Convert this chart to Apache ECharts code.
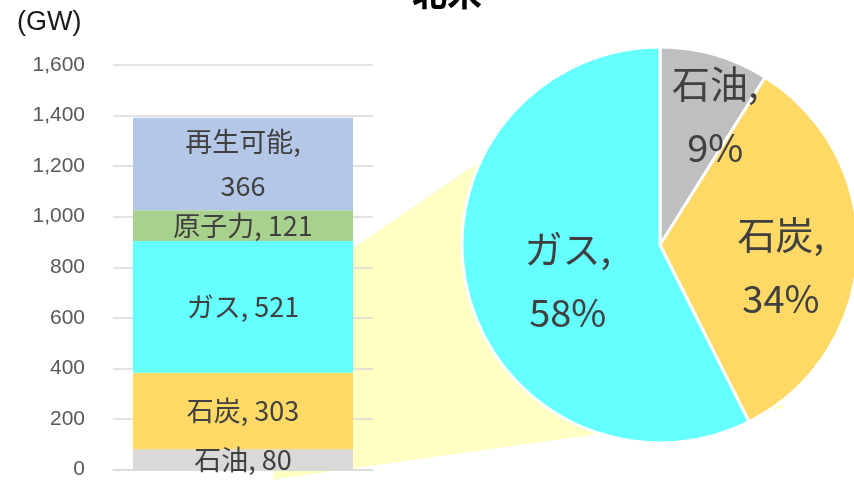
<!DOCTYPE html>
<html><head><meta charset="utf-8">
<script src="https://cdn.jsdelivr.net/npm/echarts@6/dist/echarts.min.js"></script>
<style>html,body{margin:0;padding:0;background:#fff}#c{width:854px;height:480px}</style>
</head><body><div id="c"></div>
<script>
// ---- data ----
const barCategories = ['北米'];
const barNames = ['石油', '石炭', 'ガス', '原子力', '再生可能'];
const barValues = [80, 303, 521, 121, 366];
const pieNames = ['石油', '石炭', 'ガス'];
const pieValues = [9, 34, 58];
const yTicks = { min: 0, max: 1600, interval: 200 };
const titleText = '北米';
const unitText = '(GW)';

// ---- styles ----
const barColors = ['#d9d9d9', '#ffd966', '#66ffff', '#a9d18e', '#b4c7e7'];
const pieColors = ['#bfbfbf', '#ffd966', '#66ffff'];
const pieLabelOffsets = [[27, -31], [19, 17], [7, 12]];
const pieCenter = [660, 245];
const pieRadius = 198;
const CJK = '"Noto Sans CJK JP", "Noto Sans", sans-serif';

const chart = echarts.init(document.getElementById('c'));

const barSeries = barNames.map((n, i) => ({
  name: n, type: 'bar', stack: 'total', barWidth: 220,
  data: [barValues[i]],
  itemStyle: { color: barColors[i] },
  z: 3,
  label: {
    show: true, position: 'inside', color: '#404040',
    fontFamily: CJK, fontSize: 27, lineHeight: 44,
    formatter: (p) => n === '再生可能' ? n + ',\n' + p.value : n + ', ' + p.value
  }
}));

chart.setOption({
  animation: false,
  grid: { left: 113, right: 481, top: 65, bottom: 10 },
  xAxis: { type: 'category', data: barCategories,
    axisLine: { show: true, lineStyle: { color: '#d9d9d9', width: 1.5 } },
    axisTick: { show: false }, axisLabel: { show: false } },
  yAxis: { type: 'value', min: yTicks.min, max: yTicks.max, interval: yTicks.interval,
    axisLine: { show: false }, axisTick: { show: false },
    splitLine: { lineStyle: { color: '#d9d9d9', width: 1.5 } },
    axisLabel: { color: '#595959', fontSize: 21, fontFamily: 'Liberation Sans, Arial, sans-serif', margin: 28,
      formatter: (v) => v.toLocaleString('en-US') } },
  series: barSeries.concat([{
    type: 'pie', center: pieCenter, radius: pieRadius, startAngle: 90, clockwise: true,
    z: 5,
    itemStyle: { borderColor: '#fff', borderWidth: 3 },
    label: { show: true, position: 'inside', color: '#404040', fontFamily: CJK, fontSize: 38, lineHeight: 64,
      formatter: (p) => p.name + ',\n' + p.value + '%' },
    labelLine: { show: false },
    emphasis: { disabled: true },
    data: pieNames.map((n, i) => ({ name: n, value: pieValues[i],
      itemStyle: { color: pieColors[i] },
      label: { offset: pieLabelOffsets[i] } }))
  }])
});

// connector polygon derived from axis & pie geometry
const gasTop = barValues[0] + barValues[1] + barValues[2];
const pTop = chart.convertToPixel({ gridIndex: 0 }, [0, gasTop]);
const pZero = chart.convertToPixel({ gridIndex: 0 }, [0, 0]);
const barRight = pTop[0] + 110;
const ang1 = (-155) * Math.PI / 180;
const pB = [pieCenter[0] + pieRadius * Math.cos(ang1), pieCenter[1] + pieRadius * Math.sin(ang1)];
const ang2 = (52.5) * Math.PI / 180;
const pC = [pieCenter[0] + (pieRadius + 7) * Math.cos(ang2), pieCenter[1] + (pieRadius + 7) * Math.sin(ang2)];
const slopeTop = (pB[1] - (pTop[1] + 7)) / (pB[0] - barRight);
const pA = [barRight - 60, pTop[1] + 7 - slopeTop * 60];
const pD = [barRight - 80, pZero[1] + 10];

chart.setOption({
  graphic: [
    { type: 'polygon', z: -10, silent: true,
      shape: { points: [pA, pB, pC, pD] },
      style: { fill: '#ffffc4' } },
    { type: 'text', left: 17, top: 9, silent: true,
      style: { text: unitText, fill: '#1a1a1a', font: '27px "Liberation Sans", Arial, sans-serif' } },
    { type: 'text', x: 447, y: -25, silent: true,
      style: { text: titleText, fill: '#000', textAlign: 'center', textVerticalAlign: 'top',
        font: 'bold 35px "Noto Sans CJK JP", sans-serif' } }
  ]
});
</script></body></html>
